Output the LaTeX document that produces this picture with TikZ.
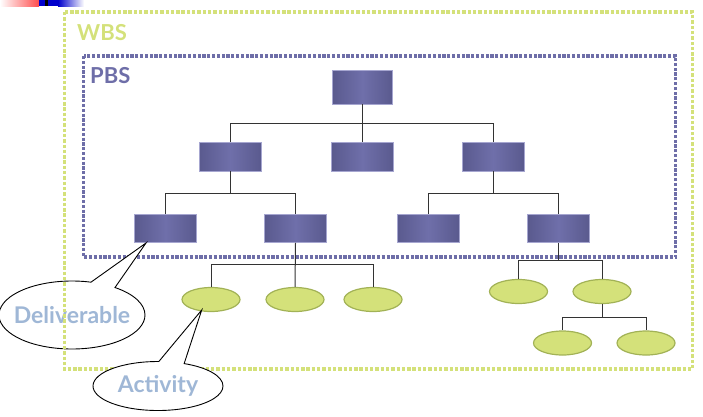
\documentclass[tikz,border=0pt]{standalone}
\usepackage{fontspec}
\newfontfamily\labfont{Lato}
\usetikzlibrary{shapes.callouts,shapes.geometric}
\definecolor{wbsgreen}{HTML}{D4E17A}
\definecolor{ellline}{HTML}{A2B256}
\definecolor{pbsblue}{HTML}{6E6EA8}
\definecolor{boxedge}{HTML}{5A5A8E}
\definecolor{boxmid}{HTML}{6F6FAA}
\definecolor{boxline}{HTML}{A6A6D0}
\definecolor{callouttext}{HTML}{9FB7D6}
\definecolor{conn}{HTML}{333333}
\tikzset{
  wbsbox/.style={draw=wbsgreen,line width=3.4pt,dash pattern=on 3.4pt off 1.9pt},
  pbsbox/.style={draw=pbsblue,line width=3.2pt,dash pattern=on 3.2pt off 1.6pt},
  taskbox/.style={rectangle,inner sep=0pt,minimum width=62pt,minimum height=29pt,
    left color=boxedge,right color=boxedge,middle color=boxmid,draw=boxline,line width=0.6pt},
  actell/.style={ellipse,inner sep=0pt,minimum width=58pt,minimum height=24pt,
    fill=wbsgreen,draw=ellline,line width=1.2pt},
  conline/.style={draw=conn,line width=1pt},
  bubble/.style={ellipse callout,draw=black,fill=white,line width=0.9pt,inner sep=0pt},
  bubbletext/.style={inner sep=0pt,text=callouttext,font=\labfont\bfseries\fontsize{23}{23}\selectfont},
  framelabel/.style={anchor=base west,inner sep=0pt,font=\labfont\bfseries\fontsize{22}{22}\selectfont}
}
\begin{document}
\begin{tikzpicture}[x=1pt,y=-1pt]
\useasboundingbox (0,0) rectangle (703,416);
\clip (0,0) rectangle (703,416);
% top-left slide decoration
\shade[left color=white,right color=red!70!white] (0,0) rectangle (39,6);
\fill[blue!80!black] (39,0) rectangle (45,6);
\fill[black] (45,0) rectangle (48,6);
\fill[blue!80!black] (48,0) rectangle (58,6);
\shade[left color=blue!80!black,right color=white] (58,0) rectangle (84,6);
% PBS frame
\draw[pbsbox] (83.5,56) rectangle (675.5,257);
\node[framelabel,text=pbsblue] (pbslabel) at (90,83) {PBS};
% boxes
\node[taskbox,minimum width=60pt,minimum height=34pt] (T) at (362.5,87) {};
\node[taskbox] (A) at (230,156.5) {};
\node[taskbox] (B) at (362.5,156.5) {};
\node[taskbox] (C) at (493,156.5) {};
\node[taskbox,minimum height=28pt] (D) at (165.5,228.5) {};
\node[taskbox,minimum height=28pt] (E) at (295.5,228.5) {};
\node[taskbox,minimum height=28pt] (F) at (428,228.5) {};
\node[taskbox,minimum height=28pt] (G) at (558.5,228.5) {};
% activities
\node[actell] (e1) at (211,299.5) {};
\node[actell] (e2) at (295,299.5) {};
\node[actell] (e3) at (373,299.5) {};
\node[actell] (e4) at (518.5,291.5) {};
\node[actell] (e5) at (602,291.5) {};
\node[actell] (e6) at (562.5,343) {};
\node[actell] (e7) at (646,343) {};
% connectors
\draw[conline] (T.south) -- (B.north);
\draw[conline] (T.south) -- ++(0,19.3) -| (A.north);
\draw[conline] (T.south) -- ++(0,19.3) -| (C.north);
\draw[conline] (A.south) -- ++(0,22) -| (D.north);
\draw[conline] (A.south) -- ++(0,22) -| (E.north);
\draw[conline] (C.south) -- ++(0,22) -| (F.north);
\draw[conline] (C.south) -- ++(0,22) -| (G.north);
\draw[conline] (E.south) -- (e2.north);
\draw[conline] (E.south) -- ++(0,22) -| (e1.north);
\draw[conline] (E.south) -- ++(0,22) -| (e3.north);
\draw[conline] (G.south) -- ++(0,18) -| (e4.north);
\draw[conline] (G.south) -- ++(0,18) -| (e5.north);
\draw[conline] (e5.south) -- ++(0,13) -| (e6.north);
\draw[conline] (e5.south) -- ++(0,13) -| (e7.north);
% Deliverable callout
\coordinate (dtip) at (146,243);
\node[bubble,minimum width=146pt,minimum height=68pt,callout absolute pointer={(dtip)},callout pointer arc=21] (deliv) at (72,315) {};
\node[bubbletext] (delivtext) at (deliv.center) {Deliverable};
% WBS frame
\draw[wbsbox] (64.5,12) rectangle (692.5,369);
\node[framelabel,text=wbsgreen] (wbslabel) at (77,40) {WBS};
% Activity callout
\coordinate (atip) at (201.7,310);
\node[bubble,minimum width=130pt,minimum height=49pt,callout absolute pointer={(atip)},callout pointer arc=23] (activ) at (158,386) {};
\node[bubbletext] (activtext) at (activ.center) {Activity};
\end{tikzpicture}
\end{document}
